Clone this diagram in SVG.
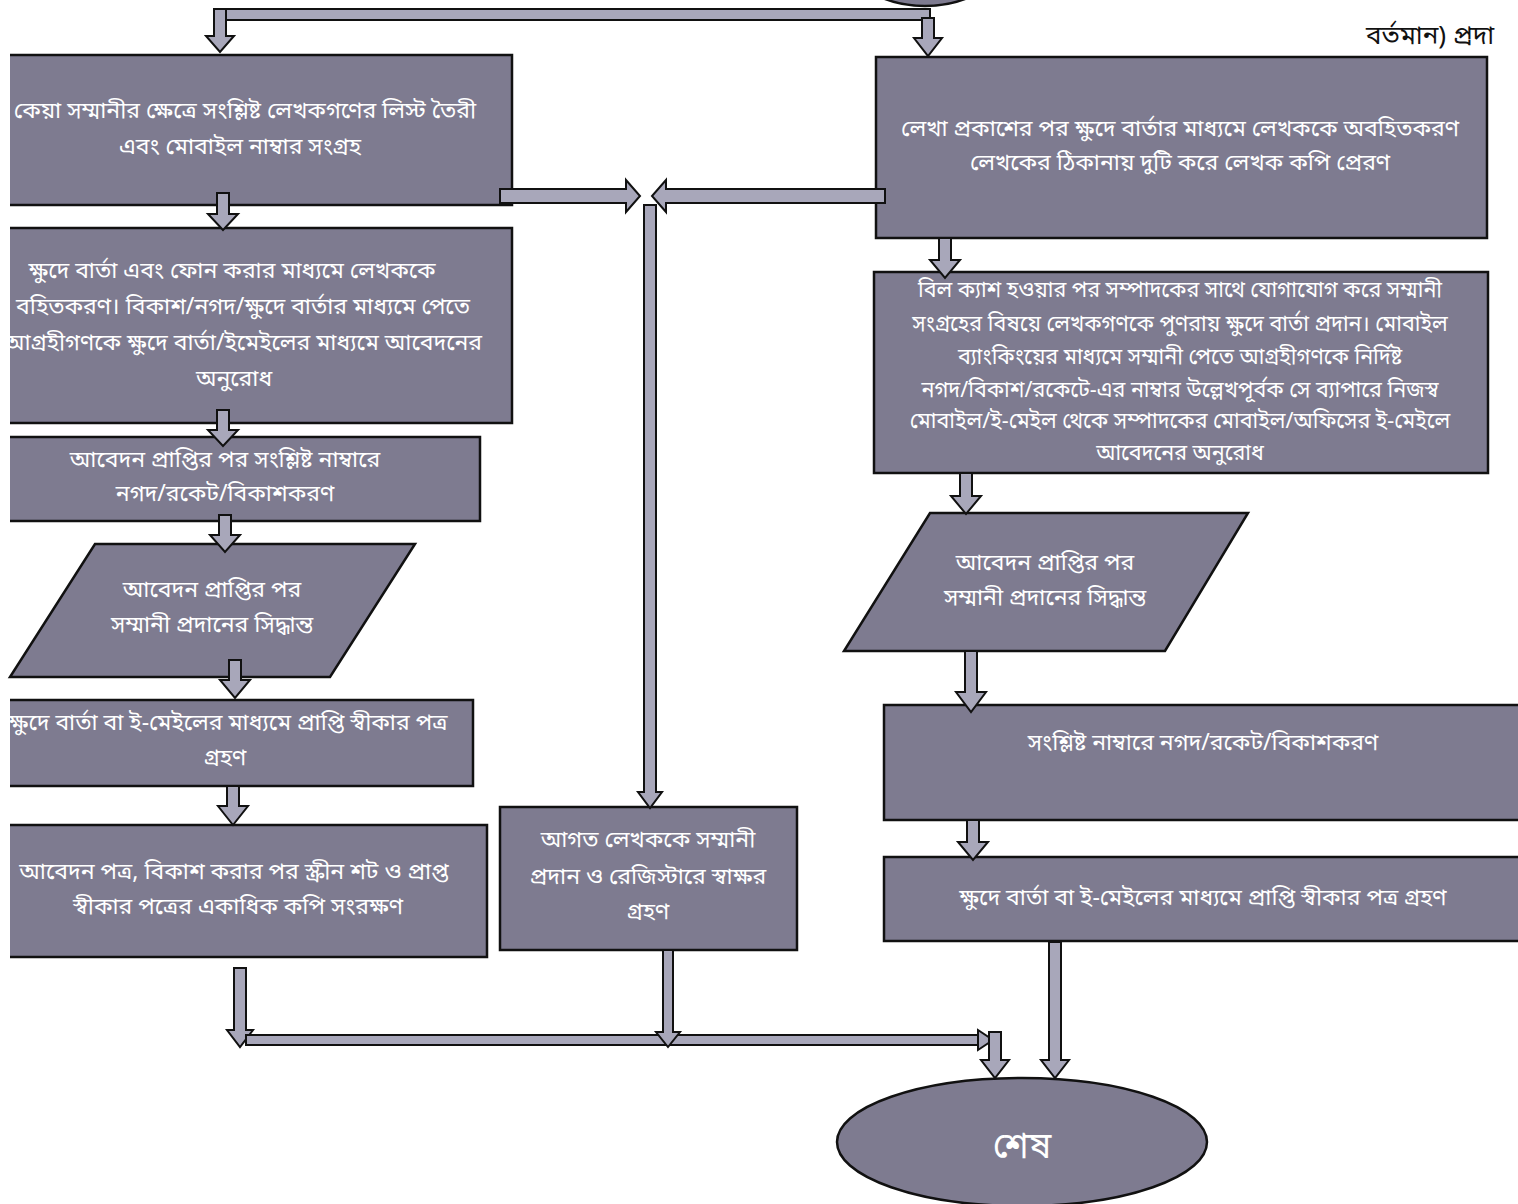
<svg xmlns="http://www.w3.org/2000/svg" width="1518" height="1204" viewBox="0 0 1518 1204">
<style>
.box{fill:#7e7b90;stroke:none}
.edge{fill:none;stroke:#111;stroke-width:2.5}
.shape{fill:#7e7b90;stroke:#111;stroke-width:2.5}
.arr{fill:#a8a7ba;stroke:#111;stroke-width:2;stroke-linejoin:miter}
.t{font-family:"Noto Sans Bengali","Noto Serif Bengali","Lohit Bengali","FreeSans","Noto Sans",sans-serif;font-size:23px;fill:#fff;text-anchor:middle}
.s{font-size:21.5px}
.tb{font-family:"Noto Sans Bengali","Noto Serif Bengali","Lohit Bengali","FreeSans","Noto Sans",sans-serif;font-size:26px;fill:#111}
</style>
<defs>
<clipPath id="lc"><rect x="10" y="0" width="1508" height="1204"/></clipPath>
</defs>

<g id="start">
<ellipse cx="925" cy="-60" rx="88" ry="66" class="shape"/>
<text class="tb" x="1366" y="44">বর্তমান) প্রদা</text>
</g>

<g id="left1">
<rect class="box" x="10" y="55" width="502" height="150"/>
<path class="edge" d="M10,55 L512,55 L512,205 L10,205"/>
<g clip-path="url(#lc)">
<text class="t" x="245" y="118">কেয়া সম্মানীর ক্ষেত্রে সংশ্লিষ্ট লেখকগণের লিস্ট তৈরী</text>
<text class="t" x="240" y="154">এবং মোবাইল নাম্বার সংগ্রহ</text>
</g>
</g>

<g id="left2">
<rect class="box" x="10" y="228" width="502" height="195"/>
<path class="edge" d="M10,228 L512,228 L512,423 L10,423"/>
<g clip-path="url(#lc)">
<text class="t" x="232" y="278">ক্ষুদে বার্তা এবং ফোন করার মাধ্যমে লেখককে</text>
<text class="t" x="243" y="314">বহিতকরণ। বিকাশ/নগদ/ক্ষুদে বার্তার মাধ্যমে পেতে</text>
<text class="t" x="243" y="350">আগ্রহীগণকে ক্ষুদে বার্তা/ইমেইলের মাধ্যমে আবেদনের</text>
<text class="t" x="234" y="386">অনুরোধ</text>
</g>
</g>

<g id="left3">
<rect class="box" x="10" y="437" width="470" height="84"/>
<path class="edge" d="M10,437 L480,437 L480,521 L10,521"/>
<text class="t" x="225" y="467">আবেদন প্রাপ্তির পর সংশ্লিষ্ট নাম্বারে</text>
<text class="t" x="225" y="501">নগদ/রকেট/বিকাশকরণ</text>
</g>

<g id="left4">
<polygon class="shape" points="95,544 415,544 330,677 10,677"/>
<text class="t" x="212" y="597">আবেদন প্রাপ্তির পর</text>
<text class="t" x="212" y="632">সম্মানী প্রদানের সিদ্ধান্ত</text>
</g>

<g id="left5">
<rect class="box" x="10" y="700" width="463" height="86"/>
<path class="edge" d="M10,700 L473,700 L473,786 L10,786"/>
<g clip-path="url(#lc)">
<text class="t" x="228" y="730">ক্ষুদে বার্তা বা ই-মেইলের মাধ্যমে প্রাপ্তি স্বীকার পত্র</text>
<text class="t" x="225" y="765">গ্রহণ</text>
</g>
</g>

<g id="left6">
<rect class="box" x="10" y="825" width="477" height="132"/>
<path class="edge" d="M10,825 L487,825 L487,957 L10,957"/>
<g clip-path="url(#lc)">
<text class="t" x="234" y="879">আবেদন পত্র, বিকাশ করার পর স্ক্রীন শট ও প্রাপ্ত</text>
<text class="t" x="238" y="914">স্বীকার পত্রের একাধিক কপি সংরক্ষণ</text>
</g>
</g>

<g id="middle">
<rect class="shape" x="500" y="807" width="297" height="143"/>
<text class="t" x="648" y="847">আগত লেখককে সম্মানী</text>
<text class="t" x="648" y="884">প্রদান ও রেজিস্টারে স্বাক্ষর</text>
<text class="t" x="648" y="919">গ্রহণ</text>
</g>

<g id="right1">
<rect class="shape" x="876" y="57" width="611" height="181"/>
<text class="t" x="1180" y="136">লেখা প্রকাশের পর ক্ষুদে বার্তার মাধ্যমে লেখককে অবহিতকরণ</text>
<text class="t" x="1180" y="170">লেখকের ঠিকানায় দুটি করে লেখক কপি প্রেরণ</text>
</g>

<g id="right2">
<rect class="shape" x="874" y="272" width="614" height="201"/>
<text class="t s" x="1180" y="297">বিল ক্যাশ হওয়ার পর সম্পাদকের সাথে যোগাযোগ করে সম্মানী</text>
<text class="t s" x="1180" y="331">সংগ্রহের বিষয়ে  লেখকগণকে পুণরায় ক্ষুদে বার্তা প্রদান। মোবাইল</text>
<text class="t s" x="1180" y="364">ব্যাংকিংয়ের মাধ্যমে সম্মানী পেতে আগ্রহীগণকে নির্দিষ্ট</text>
<text class="t s" x="1180" y="397">নগদ/বিকাশ/রকেটে-এর নাম্বার উল্লেখপূর্বক সে ব্যাপারে নিজস্ব</text>
<text class="t s" x="1180" y="428">মোবাইল/ই-মেইল থেকে সম্পাদকের মোবাইল/অফিসের ই-মেইলে</text>
<text class="t s" x="1180" y="460">আবেদনের অনুরোধ</text>
</g>

<g id="right3">
<polygon class="shape" points="930,513 1248,513 1165,651 844,651"/>
<text class="t" x="1045" y="570">আবেদন প্রাপ্তির পর</text>
<text class="t" x="1045" y="605">সম্মানী প্রদানের সিদ্ধান্ত</text>
</g>

<g id="right4">
<rect class="box" x="884" y="705" width="634" height="115"/>
<path class="edge" d="M1518,705 L884,705 L884,820 L1518,820"/>
<text class="t" x="1203" y="750">সংশ্লিষ্ট নাম্বারে নগদ/রকেট/বিকাশকরণ</text>
</g>

<g id="right5">
<rect class="box" x="884" y="857" width="634" height="84"/>
<path class="edge" d="M1518,857 L884,857 L884,941 L1518,941"/>
<text class="t" x="1203" y="905">ক্ষুদে বার্তা বা ই-মেইলের মাধ্যমে প্রাপ্তি স্বীকার পত্র গ্রহণ</text>
</g>

<g id="end">
<ellipse class="shape" cx="1022" cy="1142" rx="185" ry="64"/>
<text class="t" x="1022" y="1158" style="font-size:36px">শেষ</text>
</g>

<g id="connectors">
<rect x="214" y="9" width="716" height="11" class="arr"/>
<path class="arr" d="M214,9 L226,9 L226,36 L234,36 L220,52 L206,36 L214,36 Z"/>
<path class="arr" d="M922,18 L934,18 L934,38 L942,38 L928,56 L914,38 L922,38 Z"/>
<path class="arr" d="M217,193 L229,193 L229,214 L238,214 L223,230 L208,214 L217,214 Z"/>
<path class="arr" d="M500,189 L626,189 L626,180 L640,196 L626,212 L626,203 L500,203 Z"/>
<path class="arr" d="M885,189 L666,189 L666,180 L652,196 L666,212 L666,203 L885,203 Z"/>
<path class="arr" d="M644,205 L656,205 L656,792 L662,792 L650,808 L638,792 L644,792 Z"/>
<path class="arr" d="M217,410 L229,410 L229,430 L238,430 L223,446 L208,430 L217,430 Z"/>
<path class="arr" d="M219,515 L231,515 L231,535 L240,535 L225,552 L210,535 L219,535 Z"/>
<path class="arr" d="M229,660 L241,660 L241,680 L250,680 L235,698 L220,680 L229,680 Z"/>
<path class="arr" d="M227,786 L239,786 L239,806 L248,806 L233,825 L218,806 L227,806 Z"/>
<path class="arr" d="M234,968 L246,968 L246,1030 L253,1030 L240,1047 L227,1030 L234,1030 Z"/>
<rect x="246" y="1035" width="735" height="10" class="arr"/>
<path class="arr" d="M978,1030 L993,1040 L978,1050 Z"/>
<path class="arr" d="M663,950 L673,950 L673,1032 L680,1032 L668,1047 L656,1032 L663,1032 Z"/>
<path class="arr" d="M989,1032 L1001,1032 L1001,1060 L1009,1060 L995,1078 L981,1060 L989,1060 Z"/>
<path class="arr" d="M1049,942 L1061,942 L1061,1060 L1069,1060 L1055,1078 L1041,1060 L1049,1060 Z"/>
<path class="arr" d="M939,238 L951,238 L951,260 L960,260 L945,278 L930,260 L939,260 Z"/>
<path class="arr" d="M960,473 L972,473 L972,496 L981,496 L966,514 L951,496 L960,496 Z"/>
<path class="arr" d="M965,651 L977,651 L977,692 L986,692 L971,712 L956,692 L965,692 Z"/>
<path class="arr" d="M967,820 L979,820 L979,842 L988,842 L973,860 L958,842 L967,842 Z"/>
</g>
</svg>
